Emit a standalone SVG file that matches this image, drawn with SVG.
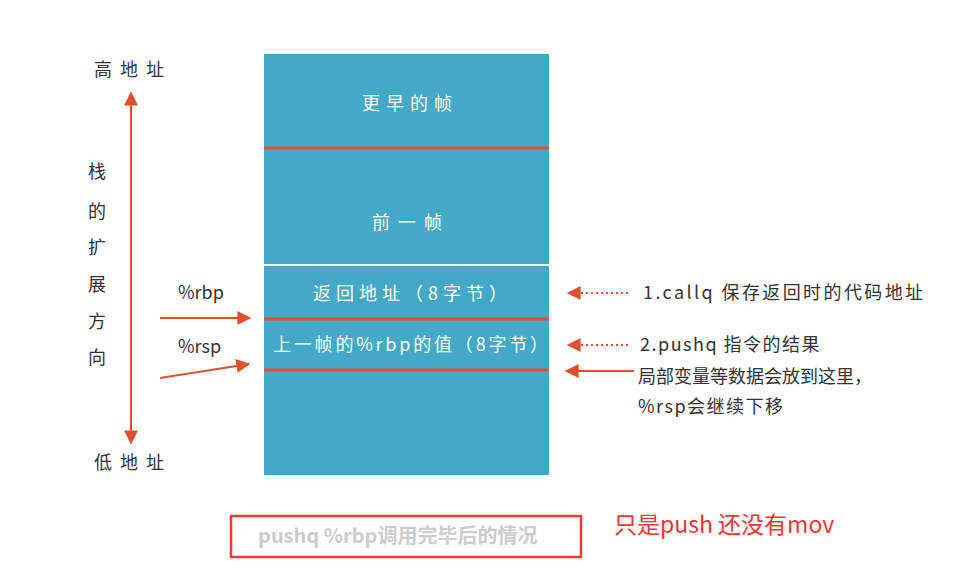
<svg xmlns="http://www.w3.org/2000/svg" width="968" height="588" viewBox="0 0 968 588">
<defs>
<style>
.t{font-family:"Noto Sans CJK SC","Noto Sans",sans-serif;fill:#333;font-size:18px}
.r{letter-spacing:1.5px}
.w{font-family:"Noto Sans CJK SC","Noto Sans",sans-serif;fill:#fff;font-size:18px}
.ln{stroke:#e0502e;stroke-width:2;fill:none}
.dot{stroke:#e0502e;stroke-width:2;fill:none;stroke-dasharray:2 3}
.sep{stroke:#e0502e;stroke-width:3}
</style>
<marker id="ah" viewBox="0 0 10 10" refX="9" refY="5" markerWidth="16" markerHeight="14" markerUnits="userSpaceOnUse" orient="auto">
<path d="M0,0 L10,5 L0,10 z" fill="#e0502e"/>
</marker>
</defs>
<rect width="968" height="588" fill="#fff"/>
<g id="stack">
<rect x="264" y="54" width="285" height="421" fill="#43a9c7"/>
<line x1="264" y1="265" x2="549" y2="265" stroke="#fff" stroke-width="2"/>
<line class="sep" x1="264" y1="148" x2="549" y2="148"/>
<line class="sep" x1="264" y1="319" x2="549" y2="319"/>
<line class="sep" x1="264" y1="370" x2="549" y2="370"/>
</g>
<g id="frame-earlier"><text class="w" x="362" y="110" letter-spacing="6">更早的帧</text></g>
<g id="frame-prev"><text class="w" x="372" y="229" letter-spacing="8">前一帧</text></g>
<g id="ret-addr"><text class="w" x="313" y="300" letter-spacing="5">返回地址（8字节）</text></g>
<g id="saved-rbp"><text class="w" x="273" y="351" letter-spacing="2.8">上一帧的%rbp的值（8字节）</text></g>
<g id="left-labels">
<text class="t" x="94" y="76" letter-spacing="8">高地址</text>
<text class="t" x="94" y="469" letter-spacing="8">低地址</text>
<text class="t" x="88" y="178">栈</text>
<text class="t" x="88" y="218">的</text>
<text class="t" x="88" y="254">扩</text>
<text class="t" x="88" y="291">展</text>
<text class="t" x="88" y="328">方</text>
<text class="t" x="88" y="364">向</text>
<text class="t" x="178" y="299" font-size="19">%rbp</text>
<text class="t" x="178" y="353" font-size="19">%rsp</text>
</g>
<g id="right-labels">
<text class="t" x="643" y="299" letter-spacing="2.4">1.callq 保存返回时的代码地址</text>
<text class="t r" x="640" y="351">2.pushq 指令的结果</text>
<text class="t" x="638" y="383">局部变量等数据会放到这里，</text>
<text class="t r" x="638" y="413">%rsp会继续下移</text>
</g>
<g id="caption">
<rect x="231" y="516" width="350" height="41" fill="none" stroke="#f03a3a" stroke-width="2.5"/>
<text x="258" y="543" font-family="Noto Sans CJK SC,sans-serif" font-size="20" font-weight="bold" fill="#ccc">pushq %rbp调用完毕后的情况</text>
<text x="614" y="533" font-family="Noto Sans CJK SC,sans-serif" font-size="23" fill="#f33">只是push 还没有mov</text>
</g>
<g id="connectors">
<line class="ln" x1="131" y1="260" x2="131" y2="93" marker-end="url(#ah)"/>
<line class="ln" x1="131" y1="260" x2="131" y2="443" marker-end="url(#ah)"/>
<line class="ln" x1="160" y1="318" x2="250" y2="318" marker-end="url(#ah)"/>
<line class="ln" x1="160" y1="378" x2="249" y2="364" marker-end="url(#ah)"/>
<line class="dot" x1="628" y1="293" x2="568" y2="293" marker-end="url(#ah)"/>
<line class="dot" x1="628" y1="345" x2="568" y2="345" marker-end="url(#ah)"/>
<line class="ln" x1="634" y1="371" x2="566" y2="371" marker-end="url(#ah)"/>
</g>
</svg>
